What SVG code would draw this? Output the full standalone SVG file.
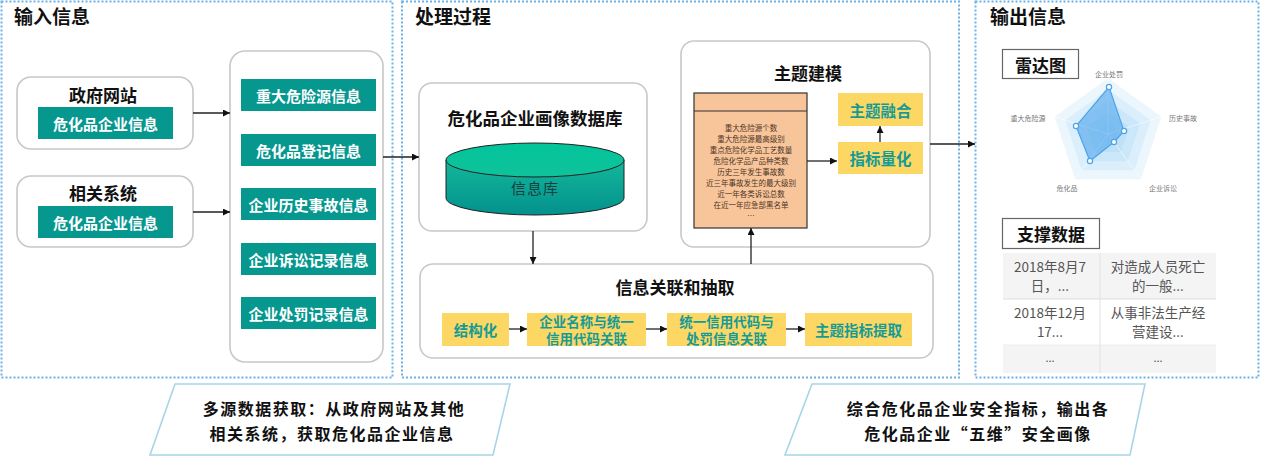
<svg xmlns="http://www.w3.org/2000/svg" width="1267" height="470" viewBox="0 0 1267 470">
<defs>
<style>
.panel{fill:none;stroke:#6cb2e6;stroke-width:2;stroke-dasharray:2 2}
.ptitle{font-family:"Noto Sans CJK SC","Noto Sans",sans-serif;font-size:19px;font-weight:bold;fill:#111}
.card{fill:#fff;stroke:#c8c8c8;stroke-width:1.6}
.ntitle{font-family:"Noto Sans CJK SC","Noto Sans",sans-serif;font-size:17px;font-weight:bold;fill:#111;text-anchor:middle;dominant-baseline:central}
.teal{fill:#06978f}
.tealtxt{font-family:"Noto Sans CJK SC","Noto Sans",sans-serif;font-size:15px;font-weight:bold;fill:#fff;text-anchor:middle;dominant-baseline:central}
.yel{fill:#fdd764}
.yeltxt{font-family:"Noto Sans CJK SC","Noto Sans",sans-serif;font-size:14.5px;font-weight:bold;fill:#159b96;text-anchor:middle;dominant-baseline:central}
.yel2{font-family:"Noto Sans CJK SC","Noto Sans",sans-serif;font-size:13.5px;font-weight:bold;fill:#159b96;text-anchor:middle;dominant-baseline:central}
.edge{fill:none;stroke:#222;stroke-width:1.3;marker-end:url(#ah)}
.doctxt{font-family:"Noto Sans CJK SC","Noto Sans",sans-serif;font-size:7.5px;fill:#4e3526;text-anchor:middle;dominant-baseline:central}
.rlab{font-family:"Noto Sans CJK SC","Noto Sans",sans-serif;font-size:7px;fill:#777;text-anchor:middle;dominant-baseline:central}
.lbox{fill:#fff;stroke:#666;stroke-width:1.2}
.ltxt{font-family:"Noto Sans CJK SC","Noto Sans",sans-serif;font-size:17px;font-weight:bold;fill:#111;text-anchor:middle;dominant-baseline:central}
.tbl{font-family:"Noto Sans CJK SC","Noto Sans",sans-serif;font-size:13.5px;fill:#555;text-anchor:middle;dominant-baseline:central}
.call{fill:#fff;stroke:#a8d5e6;stroke-width:1.6}
.calltxt{font-family:"Noto Sans CJK SC","Noto Sans",sans-serif;font-size:16px;font-weight:bold;fill:#111;text-anchor:middle;dominant-baseline:central;letter-spacing:1.5px}
.rp{fill:rgba(120,192,242,0.15);stroke:none}
</style>
<marker id="ah" viewBox="0 0 10 10" refX="10" refY="5" markerWidth="7" markerHeight="7" markerUnits="userSpaceOnUse" orient="auto">
<path d="M0,0 L10,5 L0,10 z" fill="#111"/>
</marker>
<linearGradient id="cylBody" x1="0" y1="0" x2="0" y2="1">
<stop offset="0" stop-color="#13b89b"/>
<stop offset="1" stop-color="#03918d"/>
</linearGradient>
<linearGradient id="cylTop" x1="0" y1="0" x2="0" y2="1">
<stop offset="0" stop-color="#02c49a"/>
<stop offset="1" stop-color="#10c29c"/>
</linearGradient>
</defs>
<rect width="1267" height="470" fill="#fff"/>

<!-- panels -->
<g id="panel-input">
<rect class="panel" x="1.5" y="1.5" width="391" height="376"/>
<text class="ptitle" x="14" y="24">输入信息</text>
</g>
<g id="panel-process">
<rect class="panel" x="402" y="1.5" width="557" height="376"/>
<text class="ptitle" x="415" y="24">处理过程</text>
</g>
<g id="panel-output">
<rect class="panel" x="975.5" y="1.5" width="283" height="376"/>
<text class="ptitle" x="990" y="24">输出信息</text>
</g>

<!-- input nodes -->
<g id="gov-site">
<rect class="card" x="17" y="77" width="176" height="72" rx="14"/>
<text class="ntitle" x="103" y="94">政府网站</text>
<rect class="teal" x="38" y="107" width="135" height="32"/>
<text class="tealtxt" x="105.5" y="123">危化品企业信息</text>
</g>
<g id="related-sys">
<rect class="card" x="17" y="176" width="176" height="71" rx="14"/>
<text class="ntitle" x="103" y="192">相关系统</text>
<rect class="teal" x="38" y="206" width="135" height="32"/>
<text class="tealtxt" x="105.5" y="222">危化品企业信息</text>
</g>
<g id="info-list">
<rect class="card" x="230" y="51" width="153" height="311" rx="15"/>
<rect class="teal" x="241" y="79" width="135" height="32"/>
<text class="tealtxt" x="308.5" y="95">重大危险源信息</text>
<rect class="teal" x="241" y="134" width="135" height="32"/>
<text class="tealtxt" x="308.5" y="150">危化品登记信息</text>
<rect class="teal" x="241" y="188" width="135" height="32"/>
<text class="tealtxt" x="308.5" y="204">企业历史事故信息</text>
<rect class="teal" x="241" y="243" width="135" height="32"/>
<text class="tealtxt" x="308.5" y="259">企业诉讼记录信息</text>
<rect class="teal" x="241" y="297" width="135" height="32"/>
<text class="tealtxt" x="308.5" y="313">企业处罚记录信息</text>
</g>

<!-- process nodes -->
<g id="portrait-db">
<rect class="card" x="419" y="83" width="228" height="148" rx="13"/>
<text class="ntitle" x="535" y="117" style="font-size:17.5px">危化品企业画像数据库</text>
<path d="M446,160 L446,198 A89,17 0 0 0 624,198 L624,160 Z" fill="url(#cylBody)" stroke="#222" stroke-width="1"/>
<ellipse cx="535" cy="160" rx="89" ry="17" fill="url(#cylTop)" stroke="#222" stroke-width="1"/>
<text x="535" y="187" style="font-family:'Noto Sans CJK SC',sans-serif;font-size:15px;fill:#17403e;text-anchor:middle;dominant-baseline:central;letter-spacing:1px">信息库</text>
</g>

<g id="topic-model">
<rect class="card" x="681" y="41" width="249" height="206" rx="13"/>
<text class="ntitle" x="808" y="72">主题建模</text>
<g id="indicator-doc">
<rect x="694" y="93" width="113" height="135" fill="#f8c59b" stroke="#333" stroke-width="1.2"/>
<line x1="694" y1="111" x2="807" y2="111" stroke="#333" stroke-width="1.2"/>
<text class="doctxt" x="751" y="127">重大危险源个数</text>
<text class="doctxt" x="751" y="138">重大危险源最高级别</text>
<text class="doctxt" x="751" y="149">重点危险化学品工艺数量</text>
<text class="doctxt" x="751" y="160">危险化学品产品种类数</text>
<text class="doctxt" x="751" y="171">历史三年发生事故数</text>
<text class="doctxt" x="751" y="182">近三年事故发生的最大级别</text>
<text class="doctxt" x="751" y="193">近一年各类诉讼总数</text>
<text class="doctxt" x="751" y="204">在近一年应急部黑名单</text>
<text class="doctxt" x="751" y="215">…</text>
</g>
<g id="topic-fusion">
<rect class="yel" x="838" y="93" width="85" height="33"/>
<text class="yeltxt" x="880.5" y="110" style="font-size:15.5px">主题融合</text>
</g>
<g id="indicator-quant">
<rect class="yel" x="838" y="142" width="85" height="32"/>
<text class="yeltxt" x="880.5" y="158" style="font-size:15.5px">指标量化</text>
</g>
</g>

<g id="assoc-extract">
<rect class="card" x="420" y="264" width="513" height="94" rx="13"/>
<text class="ntitle" x="675" y="286">信息关联和抽取</text>
<g id="structuring">
<rect class="yel" x="442" y="313" width="67" height="33"/>
<text class="yeltxt" x="475.5" y="329">结构化</text>
</g>
<g id="name-code">
<rect class="yel" x="527" y="313" width="119" height="33"/>
<text class="yel2" x="586.5" y="320.5">企业名称与统一</text>
<text class="yel2" x="586.5" y="338">信用代码关联</text>
</g>
<g id="code-penalty">
<rect class="yel" x="667" y="313" width="119" height="33"/>
<text class="yel2" x="726.5" y="320.5">统一信用代码与</text>
<text class="yel2" x="726.5" y="338">处罚信息关联</text>
</g>
<g id="topic-extract">
<rect class="yel" x="805" y="313" width="107" height="33"/>
<text class="yeltxt" x="858.5" y="329">主题指标提取</text>
</g>
</g>

<!-- output nodes -->
<g id="radar">
<rect class="lbox" x="1002.5" y="49.5" width="76" height="29"/>
<text class="ltxt" x="1040.5" y="64">雷达图</text>
<polygon class="rp" points="1108,78 1161.26,116.7 1140.92,179.3 1075.08,179.3 1054.74,116.7"/>
<polygon class="rp" points="1108,89.2 1150.61,120.16 1134.33,170.24 1081.67,170.24 1065.39,120.16"/>
<polygon class="rp" points="1108,100.4 1139.96,123.62 1127.75,161.18 1088.25,161.18 1076.04,123.62"/>
<polygon class="rp" points="1108,111.6 1129.3,127.08 1121.17,152.12 1094.83,152.12 1086.7,127.08"/>
<polygon class="rp" points="1108,122.8 1118.65,130.54 1114.58,143.06 1101.42,143.06 1097.35,130.54"/>
<g stroke="rgba(255,255,255,0.7)" stroke-width="0.8">
<line x1="1108" y1="134" x2="1108" y2="78"/>
<line x1="1108" y1="134" x2="1161.26" y2="116.7"/>
<line x1="1108" y1="134" x2="1140.92" y2="179.3"/>
<line x1="1108" y1="134" x2="1075.08" y2="179.3"/>
<line x1="1108" y1="134" x2="1054.74" y2="116.7"/>
</g>
<polygon points="1109,87 1124,131 1114,142 1090,161 1076,126" fill="rgba(82,166,236,0.6)" stroke="#4ea4e9" stroke-width="1.2"/>
<g fill="#fff" stroke="#4ea4e9" stroke-width="1.2">
<circle cx="1109" cy="87" r="2.6"/>
<circle cx="1124" cy="131" r="2.6"/>
<circle cx="1114" cy="142" r="2.6"/>
<circle cx="1090" cy="161" r="2.6"/>
<circle cx="1076" cy="126" r="2.6"/>
</g>
<text class="rlab" x="1109" y="74">企业处罚</text>
<text class="rlab" x="1183" y="118">历史事故</text>
<text class="rlab" x="1163" y="188">企业诉讼</text>
<text class="rlab" x="1067" y="188">危化品</text>
<text class="rlab" x="1028" y="118">重大危险源</text>
</g>

<g id="support-data">
<rect class="lbox" x="1002.5" y="218.5" width="97" height="30"/>
<text class="ltxt" x="1051" y="233">支撑数据</text>
<rect x="1003" y="253" width="213" height="46" fill="#f4f4f4"/>
<rect x="1003" y="345" width="213" height="28" fill="#f4f4f4"/>
<line x1="1003" y1="299" x2="1216" y2="299" stroke="#dedede" stroke-width="1"/>
<line x1="1003" y1="345" x2="1216" y2="345" stroke="#eeeeee" stroke-width="1"/>
<line x1="1100" y1="253" x2="1100" y2="373" stroke="#e2e2e2" stroke-width="1"/>
<text class="tbl" x="1050" y="266">2018年8月7</text>
<text class="tbl" x="1050" y="285">日，...</text>
<text class="tbl" x="1158" y="266">对造成人员死亡</text>
<text class="tbl" x="1158" y="285">的一般...</text>
<text class="tbl" x="1050" y="312">2018年12月</text>
<text class="tbl" x="1050" y="331">17...</text>
<text class="tbl" x="1158" y="312">从事非法生产经</text>
<text class="tbl" x="1158" y="331">营建设...</text>
<text class="tbl" x="1050" y="357" style="font-size:11px">...</text>
<text class="tbl" x="1158" y="357" style="font-size:11px">...</text>
</g>

<!-- callouts -->
<g id="callout-input">
<polygon class="call" points="175,384 510,384 493,455 150,455"/>
<text class="calltxt" x="334" y="408">多源数据获取：从政府网站及其他</text>
<text class="calltxt" x="332" y="433">相关系统，获取危化品企业信息</text>
</g>
<g id="callout-output">
<polygon class="call" points="812,384 1145,384 1130,455 785,455"/>
<text class="calltxt" x="978" y="408">综合危化品企业安全指标，输出各</text>
<text class="calltxt" x="978" y="433">危化品企业“五维”安全画像</text>
</g>

<!-- connectors -->
<g id="connectors">
<line class="edge" x1="193" y1="113" x2="230" y2="113"/>
<line class="edge" x1="193" y1="212" x2="230" y2="212"/>
<line class="edge" x1="383" y1="157" x2="419" y2="157"/>
<line class="edge" x1="533" y1="231" x2="533" y2="264"/>
<line class="edge" x1="751" y1="264" x2="751" y2="228"/>
<line class="edge" x1="807" y1="161" x2="837" y2="161"/>
<line class="edge" x1="880" y1="142" x2="880" y2="126"/>
<line class="edge" x1="930" y1="144" x2="975" y2="144"/>
<line class="edge" x1="509" y1="329" x2="527" y2="329"/>
<line class="edge" x1="646" y1="329" x2="667" y2="329"/>
<line class="edge" x1="786" y1="329" x2="805" y2="329"/>
</g>
</svg>
